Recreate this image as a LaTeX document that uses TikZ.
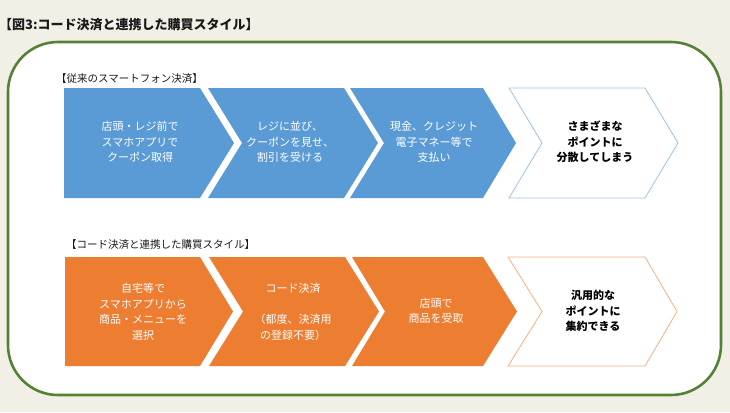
\documentclass[tikz,border=0pt]{standalone}
\usepackage{fontspec}
\setmainfont{Noto Sans CJK JP}
\newfontfamily\jp{Noto Sans CJK JP}
\definecolor{bgbeige}{HTML}{F2F0E6}
\definecolor{frgreen}{HTML}{548235}
\definecolor{cblue}{HTML}{5B9BD5}
\definecolor{cblueline}{HTML}{9DC3E6}
\definecolor{corange}{HTML}{ED7D31}
\definecolor{corangeline}{HTML}{F4B183}
\definecolor{txtdark}{HTML}{1A1A1A}
\tikzset{
  steptext/.style={align=center, text=white, inner sep=0pt, font=\jp\fontsize{11}{15.5}\selectfont},
  endtext/.style={align=center, text=black, inner sep=0pt, font=\jp\bfseries\fontsize{11}{15.5}\selectfont},
  rowlabel/.style={anchor=west, inner sep=0pt, text=txtdark, font=\jp\fontsize{10.5}{12}\selectfont},
}
\begin{document}
\begin{tikzpicture}[x=1pt,y=-1pt]
\useasboundingbox (0,0) rectangle (730,412);
\fill[bgbeige] (0,0) rectangle (730,412);
\draw[frgreen, line width=2.6pt, fill=white, rounded corners=50pt] (8,42) rectangle (721,395);
\node[anchor=west, inner sep=0pt, text=txtdark, font=\jp\bfseries\fontsize{13}{16}\selectfont] (title) at (-1,25) {【図3:コード決済と連携した購買スタイル】};
% top row
\node[rowlabel] (lab1) at (56,79) {【従来のスマートフォン決済】};
\fill[cblue] (64,88) -- (200,88) -- (234,143) -- (200,198) -- (64,198) -- cycle;
\fill[cblue] (208,88) -- (344,88) -- (378,143) -- (344,198) -- (208,198) -- (242,143) -- cycle;
\fill[cblue] (350,88) -- (483,88) -- (516,143) -- (483,198) -- (350,198) -- (384,143) -- cycle;
\draw[cblueline, line width=0.8pt, fill=white] (509,88) -- (645,88) -- (678,143) -- (645,198) -- (509,198) -- (542,143) -- cycle;
\node[steptext] (t1) at (140,142) {店頭・レジ前で\\スマホアプリで\\クーポン取得};
\node[steptext] (t2) at (290,142) {レジに並び、\\クーポンを見せ、\\割引を受ける};
\node[steptext] (t3) at (434,142) {現金、クレジット\\電子マネー等で\\支払い};
\node[endtext] (t4) at (595,142) {さまざまな\\ポイントに\\分散してしまう};
% bottom row
\node[rowlabel] (lab2) at (66,245) {【コード決済と連携した購買スタイル】};
\fill[corange] (65,257) -- (200,257) -- (233,311.5) -- (200,366) -- (65,366) -- cycle;
\fill[corange] (209,257) -- (345,257) -- (379,311.5) -- (345,366) -- (209,366) -- (243,311.5) -- cycle;
\fill[corange] (352,257) -- (483,257) -- (517,311.5) -- (483,366) -- (352,366) -- (385,311.5) -- cycle;
\draw[corangeline, line width=0.8pt, fill=white] (508,257) -- (645,257) -- (677,311.5) -- (645,366) -- (508,366) -- (542,311.5) -- cycle;
\node[steptext] (b1) at (143,312) {自宅等で\\スマホアプリから\\商品・メニューを\\選択};
\node[steptext] (b2) at (293,312) {コード決済\\[15.5pt]（都度、決済用\\の登録不要）};
\node[steptext] (b3) at (436,311) {店頭で\\商品を受取};
\node[endtext] (b4) at (593,311) {汎用的な\\ポイントに\\集約できる};
\end{tikzpicture}
\end{document}
